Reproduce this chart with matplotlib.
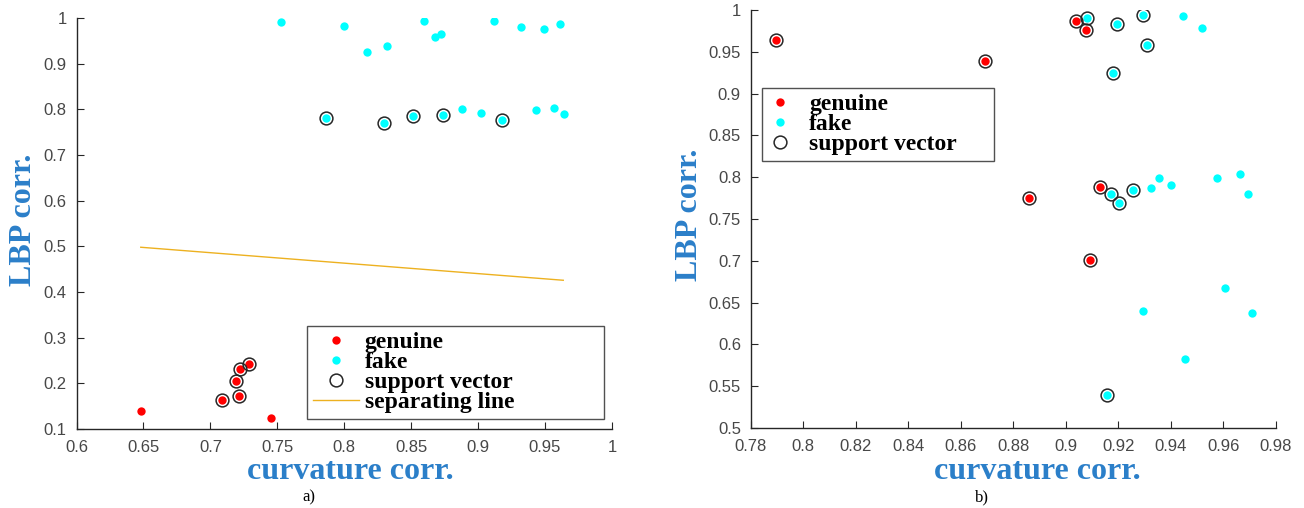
import numpy as np
import matplotlib
matplotlib.use('Agg')
import matplotlib.pyplot as plt

## DATA: panel a)
a_gen_x = [0.648, 0.709, 0.7195, 0.7218, 0.729, 0.7212, 0.745]
a_gen_y = [0.140, 0.164, 0.205, 0.232, 0.242, 0.173, 0.124]
a_gen_sv = [False, True, True, True, True, True, False]
a_fake_x = [0.7526, 0.800, 0.817, 0.832, 0.8596, 0.868, 0.872, 0.912, 0.932, 0.949, 0.961,
            0.7865, 0.8294, 0.8516, 0.874, 0.918, 0.888, 0.902, 0.943, 0.957, 0.964]
a_fake_y = [0.991, 0.983, 0.926, 0.939, 0.994, 0.958, 0.965, 0.993, 0.980, 0.977, 0.987,
            0.781, 0.770, 0.786, 0.788, 0.776, 0.800, 0.791, 0.799, 0.804, 0.790]
a_fake_sv = [False] * 11 + [True] * 5 + [False] * 5
a_line_x = [0.648, 0.9636]
a_line_y = [0.498, 0.4257]

## DATA: panel b)
b_gen_x = [0.7898, 0.8694, 0.9038, 0.9079, 0.9129, 0.886, 0.9093]
b_gen_y = [0.964, 0.9386, 0.9868, 0.9764, 0.7885, 0.775, 0.7007]
b_gen_sv = [True] * 7
b_fake_x = [0.9082, 0.9196, 0.9296, 0.931, 0.918, 0.9171, 0.9202, 0.9258, 0.9157,
            0.9446, 0.9518, 0.9324, 0.9357, 0.940, 0.9577, 0.9663, 0.9694,
            0.9293, 0.9455, 0.9607, 0.9708]
b_fake_y = [0.990, 0.983, 0.9936, 0.9577, 0.9246, 0.780, 0.769, 0.7845, 0.539,
            0.9925, 0.9785, 0.7866, 0.7993, 0.7905, 0.799, 0.8033, 0.7797,
            0.640, 0.583, 0.6675, 0.6378]
b_fake_sv = [True] * 9 + [False] * 12

RED = '#ff0000'
CYAN = '#00ffff'
ORANGE = '#edb120'
BLUE = '#2b7fc9'
GRAY = '#262626'

plt.rcParams['font.family'] = 'Liberation Sans'

W, H = 1304, 508
fig = plt.figure(figsize=(W / 100, H / 100), dpi=100)
# axes boxes in pixels
ax1 = fig.add_axes([76.5 / W, 1 - 429 / H, 535.5 / W, 411 / H])
ax2 = fig.add_axes([750.7 / W, 1 - 428 / H, 525 / W, 418 / H])

dot = 6.0
ring = 9.2


def panel(ax, gx, gy, gsv, fx, fy, fsv, xlab_x, ylab_x):
    ax.plot(gx, gy, 'o', color=RED, ms=dot, mew=0, ls='none', label='genuine')
    ax.plot(fx, fy, 'o', color=CYAN, ms=dot, mew=0, ls='none', label='fake')
    svx = [x for x, s in zip(gx, gsv) if s] + [x for x, s in zip(fx, fsv) if s]
    svy = [y for y, s in zip(gy, gsv) if s] + [y for y, s in zip(fy, fsv) if s]
    ax.plot(svx, svy, 'o', mfc='none', mec=GRAY, ms=ring, mew=1.1, ls='none',
            label='support vector')
    for s in ['top', 'right']:
        ax.spines[s].set_visible(False)
    for s in ['left', 'bottom']:
        ax.spines[s].set_color(GRAY)
        ax.spines[s].set_linewidth(1.0)
    ax.tick_params(direction='in', length=5, width=0.8, colors=GRAY,
                   labelsize=12, labelcolor='#474747')
    ax.tick_params(axis='x', pad=8)
    ax.tick_params(axis='y', pad=7)
    ax.set_xlabel('curvature corr.', family='Liberation Serif', weight='bold',
                  fontsize=23, color=BLUE)
    ax.set_ylabel('LBP corr.', family='Liberation Serif', weight='bold',
                  fontsize=23, color=BLUE)
    ax.xaxis.set_label_coords(xlab_x, -0.069)
    ax.yaxis.set_label_coords(ylab_x, 0.51)


panel(ax1, a_gen_x, a_gen_y, a_gen_sv, a_fake_x, a_fake_y, a_fake_sv, 0.511, -0.072)
ax1.plot(a_line_x, a_line_y, color=ORANGE, lw=1.0, label='separating line')
ax1.set_xlim(0.6, 1)
ax1.set_ylim(0.1, 1)
ax1.set_xticks(np.arange(0.6, 1.001, 0.05))
ax1.set_xticklabels(['0.6', '0.65', '0.7', '0.75', '0.8', '0.85', '0.9', '0.95', '1'])
ax1.set_yticks(np.arange(0.1, 1.001, 0.1))
ax1.set_yticklabels(['0.1', '0.2', '0.3', '0.4', '0.5', '0.6', '0.7', '0.8', '0.9', '1'])

panel(ax2, b_gen_x, b_gen_y, b_gen_sv, b_fake_x, b_fake_y, b_fake_sv, 0.545, -0.089)
ax2.set_xlim(0.78, 0.98)
ax2.set_ylim(0.5, 1)
ax2.set_xticks(np.arange(0.78, 0.981, 0.02))
ax2.set_xticklabels(['0.78', '0.8', '0.82', '0.84', '0.86', '0.88', '0.9', '0.92', '0.94', '0.96', '0.98'])
ax2.set_yticks(np.arange(0.5, 1.001, 0.05))
ax2.set_yticklabels(['0.5', '0.55', '0.6', '0.65', '0.7', '0.75', '0.8', '0.85', '0.9', '0.95', '1'])

leg_font = {'family': 'Liberation Serif', 'weight': 'bold', 'size': 17}
# legend boxes: (left, top, right px, handlelength, handletextpad)
for ax, (x0, y0, x1, hl, hp) in [(ax1, (307, 325.7, 604, 1.95, 0.25)),
                                 (ax2, (761.8, 87.7, 994, 1.05, 0.7))]:
    leg = ax.legend(loc='upper left', prop=leg_font, frameon=True, fancybox=False,
                    edgecolor=GRAY, handlelength=hl, handletextpad=hp,
                    labelspacing=-0.06, borderpad=0.25, borderaxespad=0,
                    mode='expand',
                    bbox_to_anchor=(x0 / W, 1 - y0 / H - 0.01, (x1 - x0) / W, 0.01),
                    bbox_transform=fig.transFigure)
    leg.get_frame().set_linewidth(1.0)

fig.text(309 / W, 1 - 497 / H, 'a)', family='Liberation Serif', fontsize=12,
         ha='center', va='center')
fig.text(982 / W, 1 - 497 / H, 'b)', family='Liberation Serif', fontsize=12,
         ha='center', va='center')

fig.savefig('out.png', dpi=100)
